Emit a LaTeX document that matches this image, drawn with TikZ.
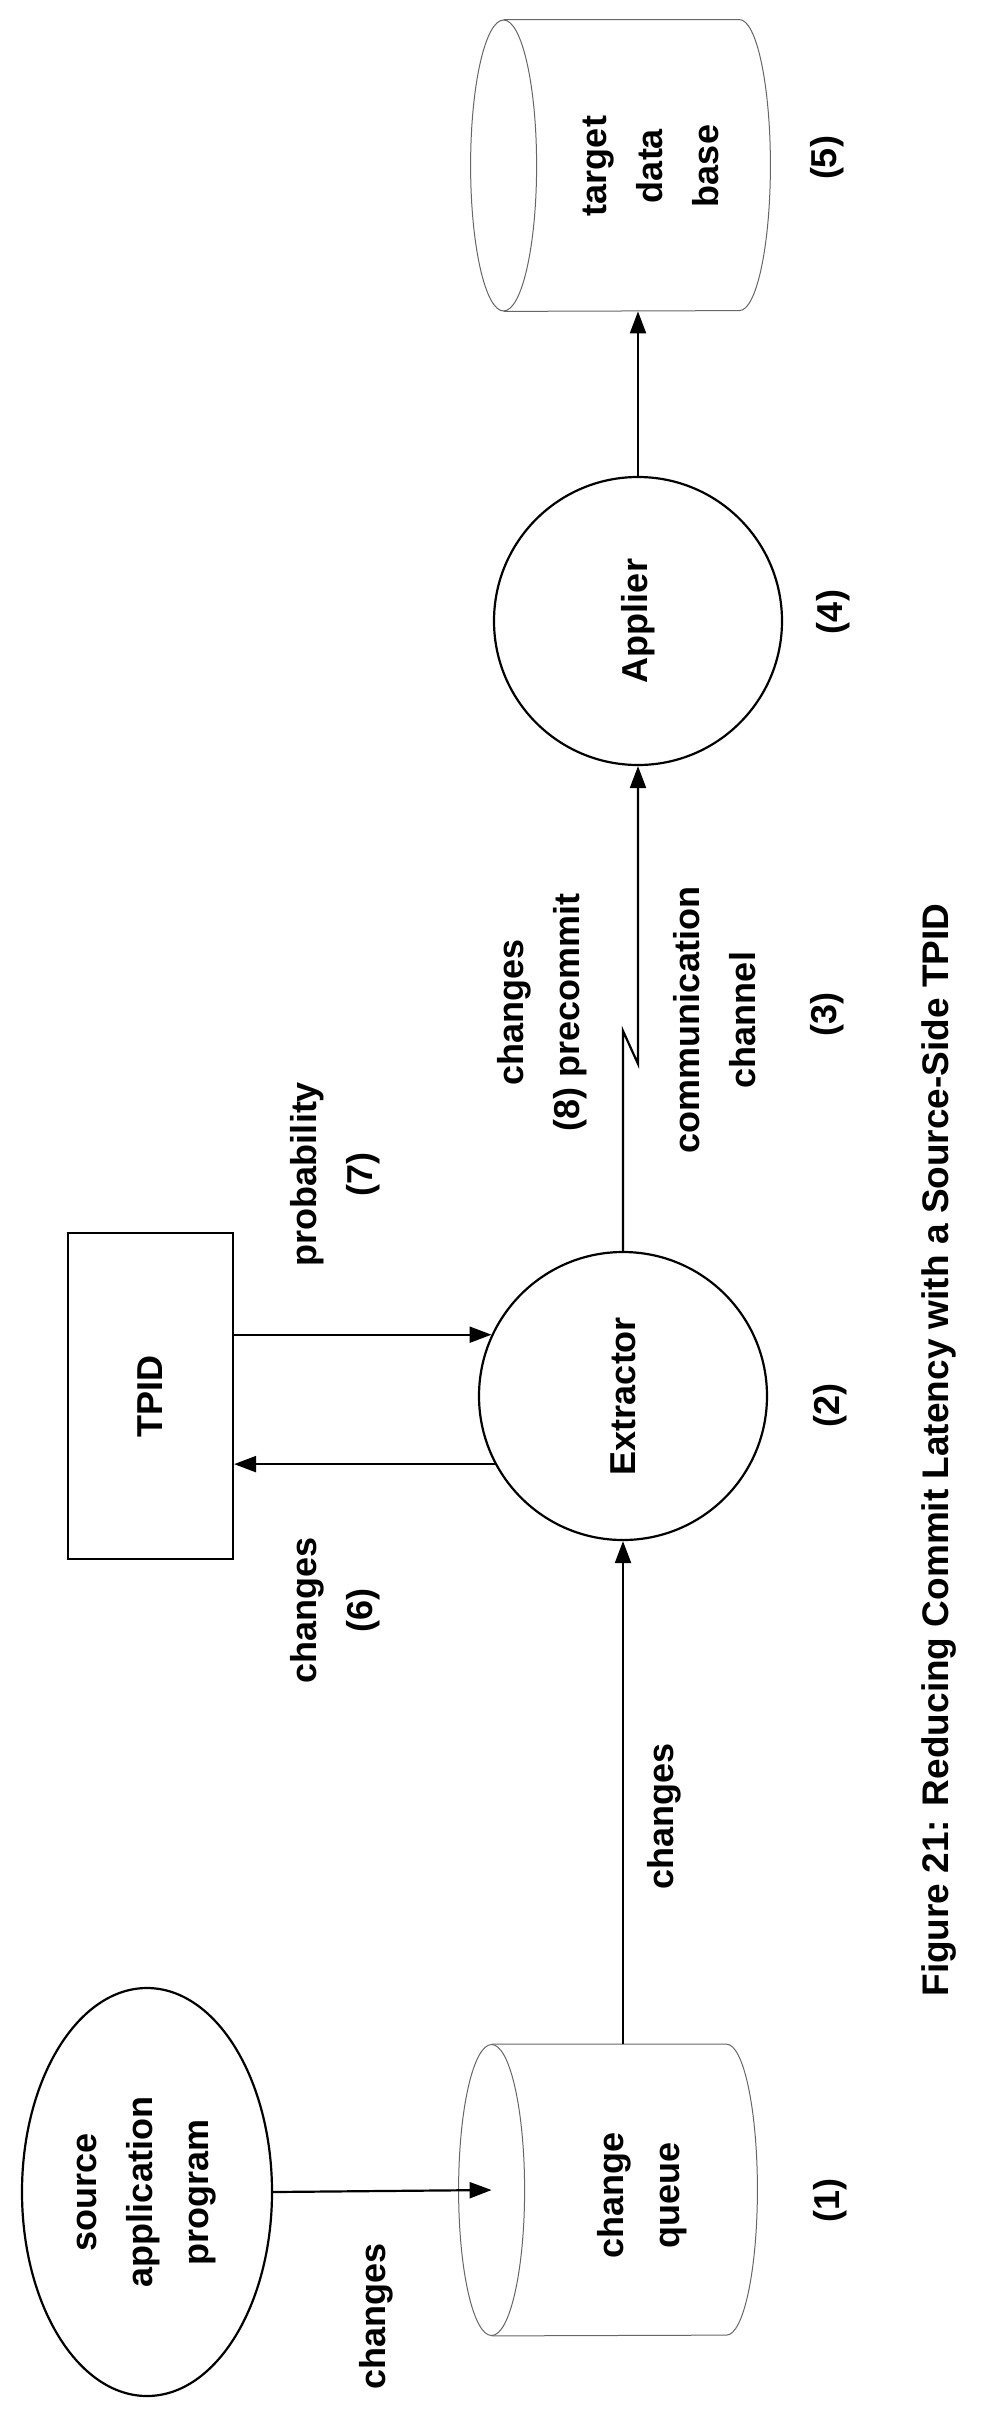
\documentclass[tikz,border=0pt]{standalone}
\usepackage{fontspec}
\setmainfont{Liberation Sans}
\usetikzlibrary{arrows.meta,shapes.geometric}
\tikzset{
  lbl/.style={font=\bfseries\fontsize{18}{28}\selectfont, rotate=90, align=center},
  proc/.style={circle, draw, line width=1.1pt, minimum size=144pt, inner sep=0pt, font=\bfseries\fontsize{18}{28}\selectfont},
  drumbox/.style={rotate=90, minimum width=145.5pt, inner sep=0pt},
  cyl/.style={draw=black!60, line width=0.5pt},
  arr/.style={line width=1.1pt, -{Triangle[length=11pt,width=8pt]}}
}
\newcommand\drum[1]{%
  \draw[cyl] (#1.north east) -- (#1.south east)
    arc[start angle=90, end angle=-90, x radius=15.5pt, y radius=72.75pt]
    -- (#1.north west);
  \draw[cyl] (#1.north) ellipse[x radius=16.5pt, y radius=72.75pt];
}
\begin{document}
\begin{tikzpicture}[x=0.5pt, y=-0.5pt]
	\useasboundingbox (0,0) rectangle (982,2424);
	% stores
	\node[drumbox, minimum height=117.5pt] (tdb) at (621.5,165.5) {};
	\node[drumbox, minimum height=117pt] (cq) at (609,2190) {};
	\drum{tdb}
	\drum{cq}
	\node[lbl] (tdb-txt) at (651,166) {target\\data\\base};
	\node[lbl] (cq-txt) at (642,2195) {change\\queue};
	% processes
	\node[proc] (applier) at (638,621) {\rotatebox{90}{Applier}};
	\node[proc] (extractor) at (623,1396) {\rotatebox{90}{Extractor}};
	\node[lbl, draw, line width=1.1pt, minimum width=163pt, minimum height=82.5pt] (tpid) at (150.5,1396) {TPID};
	\node[lbl, ellipse, draw, line width=1.1pt, minimum width=204pt, minimum height=125pt, inner sep=0pt] (src) at (147,2192) {source\\application\\program};
	% connectors
	\draw[arr] (src.south) -- (cq.north);
	\draw[arr] (extractor.south |- cq.east) -- (extractor.south);
	\draw[arr] (extractor.155 -| tpid.south) -- (extractor.155);
	\draw[arr] (extractor.208) -- (extractor.208 -| tpid.south);
	\draw[arr] (extractor.north) -- ++(0,-220) -- ++(15,33) -- (applier.south);
	\draw[arr] (applier.north) -- (applier.north |- tdb.west);
	% labels
	\node[lbl] (n5) at (827,158) {(5)};
	\node[lbl] (n4) at (833,612) {(4)};
	\node[lbl] (n3) at (827,1014) {(3)};
	\node[lbl] (n2) at (830,1405) {(2)};
	\node[lbl] (n1) at (830,2200) {(1)};
	\node[lbl] (prob) at (335,1174) {probability\\(7)};
	\node[lbl] (chg6) at (335,1610) {changes\\(6)};
	\node[lbl] (chg8) at (542,1012) {changes\\(8) precommit};
	\node[lbl] (comm) at (715,1020) {communication\\channel};
	\node[lbl] (chgq) at (664,1816) {changes};
	\node[lbl] (chgs) at (376,2316) {changes};
	\node[lbl, font=\bfseries\fontsize{18.5}{22}\selectfont] (title) at (939,1450) {Figure 21: Reducing Commit Latency with a Source-Side TPID};
\end{tikzpicture}
\end{document}
